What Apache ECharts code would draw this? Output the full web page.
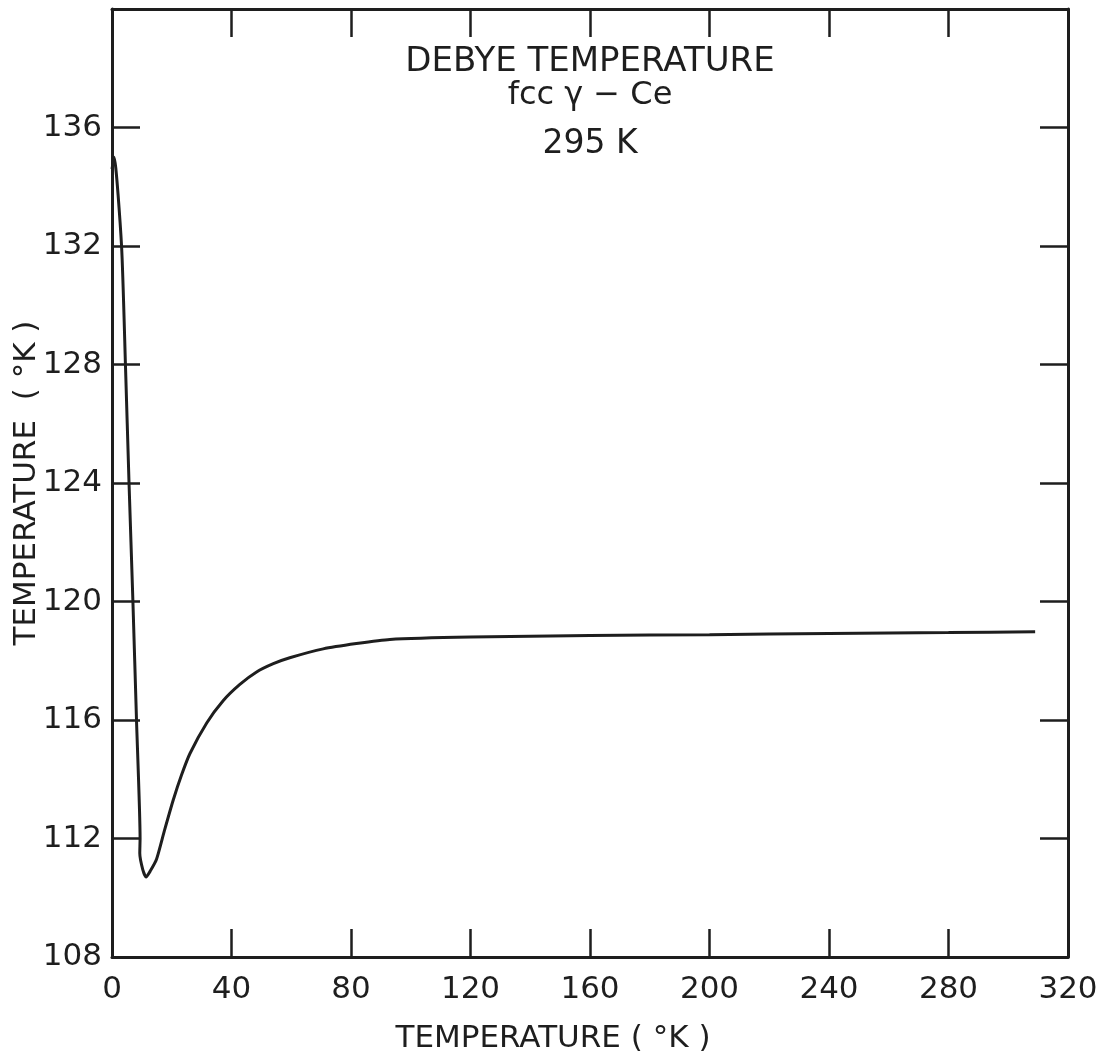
<!DOCTYPE html>
<html>
<head>
<meta charset="utf-8">
<title>Debye temperature, fcc γ-Ce</title>
<script src="https://cdn.jsdelivr.net/npm/echarts@6/dist/echarts.min.js"></script>
<style>
  html, body { margin: 0; padding: 0; background: #ffffff; }
  #chart { width: 1105px; height: 1058px; }
</style>
</head>
<body>
<div id="chart"></div>
<script>
// Temperature T (°K) along the curve
const temperatureK = [0, 0.7, 3.2, 4.5, 5.7, 7.0, 8.2, 9.4, 9.3, 10.3, 11.4, 12.8, 14.9, 17.5, 20.5, 23.3, 26.1, 31.7, 37.2, 42.8, 48.4, 54, 59.5, 70.7, 81.8, 93, 120, 160, 200, 240, 280, 309];
// Debye temperature θ (°K) at each T
const debyeK = [134.6, 135.0, 132.0, 128.0, 124.0, 120.0, 116.0, 112.0, 111.5, 110.95, 110.7, 110.9, 111.3, 112.25, 113.3, 114.15, 114.87, 115.9, 116.65, 117.2, 117.62, 117.9, 118.1, 118.4, 118.58, 118.72, 118.8, 118.85, 118.88, 118.92, 118.95, 118.98];

const xTicks = [0, 40, 80, 120, 160, 200, 240, 280, 320];
const yTicks = [108, 112, 116, 120, 124, 128, 132, 136, 140];
const titleLines = ['DEBYE TEMPERATURE', 'fcc γ − Ce', '295 K'];
const xName = 'TEMPERATURE ( °K )';
const yName = 'TEMPERATURE  ( °K )';

const ink = '#1e1e1e';
const font = 'DejaVu Sans';

const curve = temperatureK.map((t, i) => [t, debyeK[i]]);

const chart = echarts.init(document.getElementById('chart'), null, { renderer: 'canvas' });

const frameLine = { show: true, onZero: false, lineStyle: { color: ink, width: 3 } };
const innerTick = { show: true, inside: true, length: 28, lineStyle: { color: ink, width: 2.5 } };

chart.setOption({
  animation: false,
  backgroundColor: '#ffffff',
  title: titleLines.map((txt, i) => ({
    text: txt,
    left: 585,
    top: [40, 75, 123][i],
    textAlign: 'center',
    textStyle: { fontFamily: font, fontWeight: 'normal', fontSize: [34, 32, 33][i], color: ink }
  })),
  grid: { left: 112, right: 37, top: 9, bottom: 101, containLabel: false, outerBoundsMode: 'none' },
  xAxis: [
    {
      type: 'value', position: 'bottom', min: xTicks[0], max: xTicks[xTicks.length - 1], interval: 40,
      axisLine: frameLine, axisTick: innerTick, splitLine: { show: false },
      axisLabel: { fontFamily: font, fontSize: 31, color: ink, margin: 17, showMaxLabel: true, showMinLabel: true },
      name: xName, nameLocation: 'middle', nameGap: 66, nameMoveOverlap: false,
      nameTextStyle: { fontFamily: font, fontSize: 31, color: ink, padding: [0, 74, 0, 0] }
    },
    {
      type: 'value', position: 'top', min: xTicks[0], max: xTicks[xTicks.length - 1], interval: 40,
      axisLine: frameLine, axisTick: innerTick, axisLabel: { show: false }, splitLine: { show: false }
    }
  ],
  yAxis: [
    {
      type: 'value', position: 'left', min: yTicks[0], max: yTicks[yTicks.length - 1], interval: 4,
      axisLine: frameLine, axisTick: innerTick, splitLine: { show: false },
      axisLabel: {
        fontFamily: font, fontSize: 31, color: ink, margin: 10,
        formatter: v => (v === yTicks[yTicks.length - 1] ? '' : String(v))
      },
      name: yName, nameLocation: 'middle', nameGap: 70, nameRotate: 90, nameMoveOverlap: false,
      nameTextStyle: { fontFamily: font, fontSize: 31, color: ink }
    },
    {
      type: 'value', position: 'right', min: yTicks[0], max: yTicks[yTicks.length - 1], interval: 4,
      axisLine: frameLine, axisTick: innerTick, axisLabel: { show: false }, splitLine: { show: false }
    }
  ],
  series: [
    {
      type: 'line',
      data: curve,
      xAxisIndex: 0,
      yAxisIndex: 0,
      smooth: 0.2,
      showSymbol: false,
      lineStyle: { color: ink, width: 3 },
      clip: true
    }
  ]
});
</script>
</body>
</html>
